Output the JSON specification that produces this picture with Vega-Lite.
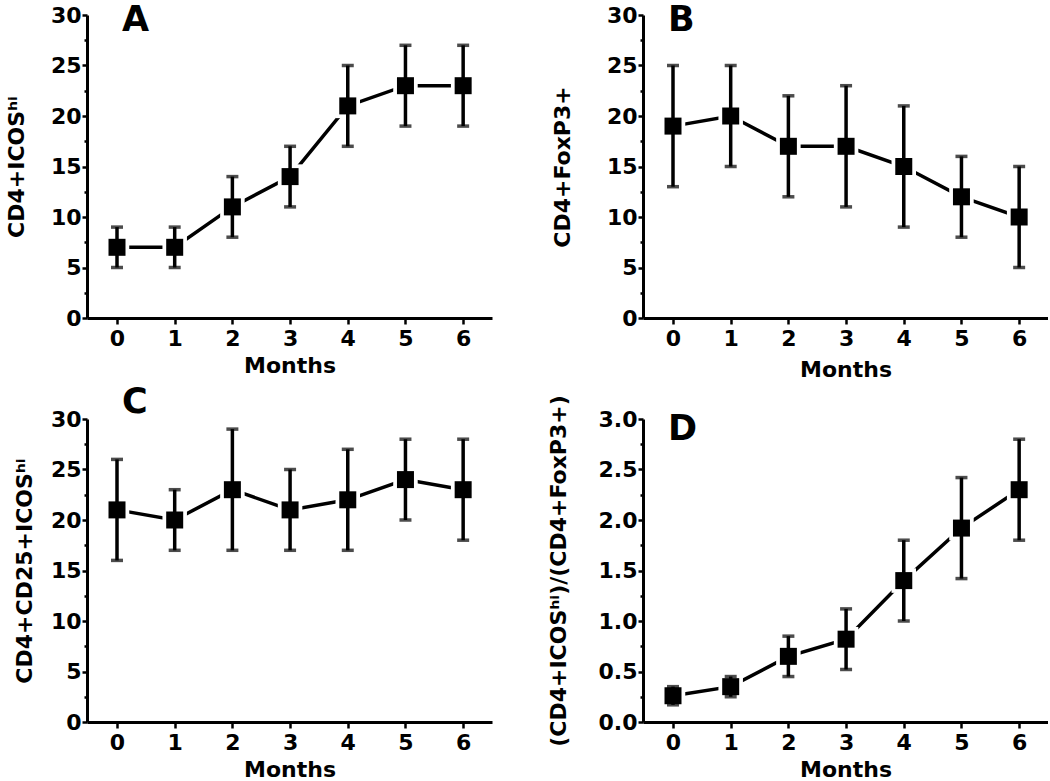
{
  "$schema": "https://vega.github.io/schema/vega-lite/v6.json",
  "padding": {"left": 5, "top": 3, "right": 0, "bottom": 0},
  "background": "white",
  "data": {"values": [
    {"panel": "A", "month": 0, "mean": 7, "lo": 5, "hi": 9},
    {"panel": "A", "month": 1, "mean": 7, "lo": 5, "hi": 9},
    {"panel": "A", "month": 2, "mean": 11, "lo": 8, "hi": 14},
    {"panel": "A", "month": 3, "mean": 14, "lo": 11, "hi": 17},
    {"panel": "A", "month": 4, "mean": 21, "lo": 17, "hi": 25},
    {"panel": "A", "month": 5, "mean": 23, "lo": 19, "hi": 27},
    {"panel": "A", "month": 6, "mean": 23, "lo": 19, "hi": 27},
    {"panel": "B", "month": 0, "mean": 19, "lo": 13, "hi": 25},
    {"panel": "B", "month": 1, "mean": 20, "lo": 15, "hi": 25},
    {"panel": "B", "month": 2, "mean": 17, "lo": 12, "hi": 22},
    {"panel": "B", "month": 3, "mean": 17, "lo": 11, "hi": 23},
    {"panel": "B", "month": 4, "mean": 15, "lo": 9, "hi": 21},
    {"panel": "B", "month": 5, "mean": 12, "lo": 8, "hi": 16},
    {"panel": "B", "month": 6, "mean": 10, "lo": 5, "hi": 15},
    {"panel": "C", "month": 0, "mean": 21, "lo": 16, "hi": 26},
    {"panel": "C", "month": 1, "mean": 20, "lo": 17, "hi": 23},
    {"panel": "C", "month": 2, "mean": 23, "lo": 17, "hi": 29},
    {"panel": "C", "month": 3, "mean": 21, "lo": 17, "hi": 25},
    {"panel": "C", "month": 4, "mean": 22, "lo": 17, "hi": 27},
    {"panel": "C", "month": 5, "mean": 24, "lo": 20, "hi": 28},
    {"panel": "C", "month": 6, "mean": 23, "lo": 18, "hi": 28},
    {"panel": "D", "month": 0, "mean": 0.26, "lo": 0.17, "hi": 0.35},
    {"panel": "D", "month": 1, "mean": 0.35, "lo": 0.25, "hi": 0.45},
    {"panel": "D", "month": 2, "mean": 0.65, "lo": 0.45, "hi": 0.85},
    {"panel": "D", "month": 3, "mean": 0.82, "lo": 0.52, "hi": 1.12},
    {"panel": "D", "month": 4, "mean": 1.4, "lo": 1.0, "hi": 1.8},
    {"panel": "D", "month": 5, "mean": 1.92, "lo": 1.42, "hi": 2.42},
    {"panel": "D", "month": 6, "mean": 2.3, "lo": 1.8, "hi": 2.8}
  ]},
  "config": {
    "view": {"stroke": null},
    "font": "DejaVu Sans",
    "axis": {
      "grid": false,
      "domainColor": "black",
      "domainWidth": 3,
      "tickColor": "black",
      "tickWidth": 2.5,
      "tickSize": 6,
      "labelFont": "DejaVu Sans",
      "labelFontWeight": "bold",
      "labelFontSize": 22,
      "labelColor": "black",
      "titleFont": "DejaVu Sans",
      "titleFontWeight": "bold",
      "titleFontSize": 22,
      "titleColor": "black"
    },
    "axisX": {"labelPadding": 4, "titlePadding": 6},
    "axisY": {"labelPadding": 1, "tickSize": 5},
    "title": {"font": "DejaVu Sans", "fontWeight": "bold", "fontSize": 35, "color": "black", "anchor": "start", "frame": "group", "baseline": "alphabetic"}
  },
  "columns": 2,
  "spacing": {"row": 5, "column": 55},
  "concat": [
    {
      "title": {"text": "A", "dx": 35, "offset": -34},
      "width": 405, "height": 303,
      "transform": [{"filter": "datum.panel == 'A'"}],
      "encoding": {
        "x": {"field": "month", "type": "quantitative", "scale": {"domain": [-0.52, 6.5], "nice": false, "zero": false},
              "axis": {"values": [0, 1, 2, 3, 4, 5, 6], "title": "Months", "titlePadding": 6}}
      },
      "layer": [
        {"mark": {"type": "line", "color": "black", "strokeWidth": 3.5},
         "encoding": {"y": {"field": "mean", "type": "quantitative", "scale": {"domain": [0, 30], "nice": false},
                            "axis": {"values": [0, 5, 10, 15, 20, 25, 30], "title": "CD4+ICOSʰⁱ", "titlePadding": 22, "orient": "left"}}}},
        {"mark": {"type": "point", "shape": "square", "filled": true, "color": "white", "opacity": 1, "size": 600},
         "encoding": {"y": {"field": "mean", "type": "quantitative",
                            "axis": {"values": [2.5, 7.5, 12.5, 17.5, 22.5, 27.5], "labels": false, "domain": false, "tickSize": 3, "title": null, "orient": "left"}}}},
        {"mark": {"type": "point", "shape": "square", "filled": true, "color": "black", "opacity": 1, "size": 289},
         "encoding": {"y": {"field": "mean", "type": "quantitative", "axis": null}}},
        {"mark": {"type": "errorbar", "color": "black", "ticks": {"size": 12, "thickness": 3.5}, "rule": {"strokeWidth": 3.5}},
         "encoding": {"y": {"field": "lo", "type": "quantitative", "axis": null}, "y2": {"field": "hi"}}}
      ],
      "resolve": {"axis": {"y": "independent"}}
    },
    {
      "title": {"text": "B", "dx": 25, "offset": -34},
      "width": 405, "height": 303,
      "transform": [{"filter": "datum.panel == 'B'"}],
      "encoding": {
        "x": {"field": "month", "type": "quantitative", "scale": {"domain": [-0.52, 6.5], "nice": false, "zero": false},
              "axis": {"values": [0, 1, 2, 3, 4, 5, 6], "title": "Months", "titlePadding": 10}}
      },
      "layer": [
        {"mark": {"type": "line", "color": "black", "strokeWidth": 3.5},
         "encoding": {"y": {"field": "mean", "type": "quantitative", "scale": {"domain": [0, 30], "nice": false},
                            "axis": {"values": [0, 5, 10, 15, 20, 25, 30], "title": "CD4+FoxP3+", "titlePadding": 32, "orient": "left"}}}},
        {"mark": {"type": "point", "shape": "square", "filled": true, "color": "white", "opacity": 1, "size": 600},
         "encoding": {"y": {"field": "mean", "type": "quantitative",
                            "axis": {"values": [2.5, 7.5, 12.5, 17.5, 22.5, 27.5], "labels": false, "domain": false, "tickSize": 3, "title": null, "orient": "left"}}}},
        {"mark": {"type": "point", "shape": "square", "filled": true, "color": "black", "opacity": 1, "size": 289},
         "encoding": {"y": {"field": "mean", "type": "quantitative", "axis": null}}},
        {"mark": {"type": "errorbar", "color": "black", "ticks": {"size": 12, "thickness": 3.5}, "rule": {"strokeWidth": 3.5}},
         "encoding": {"y": {"field": "lo", "type": "quantitative", "axis": null}, "y2": {"field": "hi"}}}
      ],
      "resolve": {"axis": {"y": "independent"}}
    },
    {
      "title": {"text": "C", "dx": 35, "offset": -12},
      "width": 405, "height": 303,
      "transform": [{"filter": "datum.panel == 'C'"}],
      "encoding": {
        "x": {"field": "month", "type": "quantitative", "scale": {"domain": [-0.52, 6.5], "nice": false, "zero": false},
              "axis": {"values": [0, 1, 2, 3, 4, 5, 6], "title": "Months", "titlePadding": 6}}
      },
      "layer": [
        {"mark": {"type": "line", "color": "black", "strokeWidth": 3.5},
         "encoding": {"y": {"field": "mean", "type": "quantitative", "scale": {"domain": [0, 30], "nice": false},
                            "axis": {"values": [0, 5, 10, 15, 20, 25, 30], "title": "CD4+CD25+ICOSʰⁱ", "titlePadding": 14, "orient": "left"}}}},
        {"mark": {"type": "point", "shape": "square", "filled": true, "color": "white", "opacity": 1, "size": 600},
         "encoding": {"y": {"field": "mean", "type": "quantitative",
                            "axis": {"values": [2.5, 7.5, 12.5, 17.5, 22.5, 27.5], "labels": false, "domain": false, "tickSize": 3, "title": null, "orient": "left"}}}},
        {"mark": {"type": "point", "shape": "square", "filled": true, "color": "black", "opacity": 1, "size": 289},
         "encoding": {"y": {"field": "mean", "type": "quantitative", "axis": null}}},
        {"mark": {"type": "errorbar", "color": "black", "ticks": {"size": 12, "thickness": 3.5}, "rule": {"strokeWidth": 3.5}},
         "encoding": {"y": {"field": "lo", "type": "quantitative", "axis": null}, "y2": {"field": "hi"}}}
      ],
      "resolve": {"axis": {"y": "independent"}}
    },
    {
      "title": {"text": "D", "dx": 25, "offset": -52},
      "width": 405, "height": 303,
      "transform": [{"filter": "datum.panel == 'D'"}],
      "encoding": {
        "x": {"field": "month", "type": "quantitative", "scale": {"domain": [-0.52, 6.5], "nice": false, "zero": false},
              "axis": {"values": [0, 1, 2, 3, 4, 5, 6], "title": "Months", "titlePadding": 6}}
      },
      "layer": [
        {"mark": {"type": "line", "color": "black", "strokeWidth": 3.5},
         "encoding": {"y": {"field": "mean", "type": "quantitative", "scale": {"domain": [0, 3], "nice": false},
                            "axis": {"values": [0, 0.5, 1, 1.5, 2, 2.5, 3], "format": ".1f", "title": "(CD4+ICOSʰⁱ)/(CD4+FoxP3+)", "titlePadding": 28, "orient": "left"}}}},
        {"mark": {"type": "point", "shape": "square", "filled": true, "color": "white", "opacity": 1, "size": 600},
         "encoding": {"y": {"field": "mean", "type": "quantitative",
                            "axis": {"values": [0.25, 0.75, 1.25, 1.75, 2.25, 2.75], "labels": false, "domain": false, "tickSize": 3, "title": null, "orient": "left"}}}},
        {"mark": {"type": "point", "shape": "square", "filled": true, "color": "black", "opacity": 1, "size": 289},
         "encoding": {"y": {"field": "mean", "type": "quantitative", "axis": null}}},
        {"mark": {"type": "errorbar", "color": "black", "ticks": {"size": 12, "thickness": 3.5}, "rule": {"strokeWidth": 3.5}},
         "encoding": {"y": {"field": "lo", "type": "quantitative", "axis": null}, "y2": {"field": "hi"}}}
      ],
      "resolve": {"axis": {"y": "independent"}}
    }
  ]
}
